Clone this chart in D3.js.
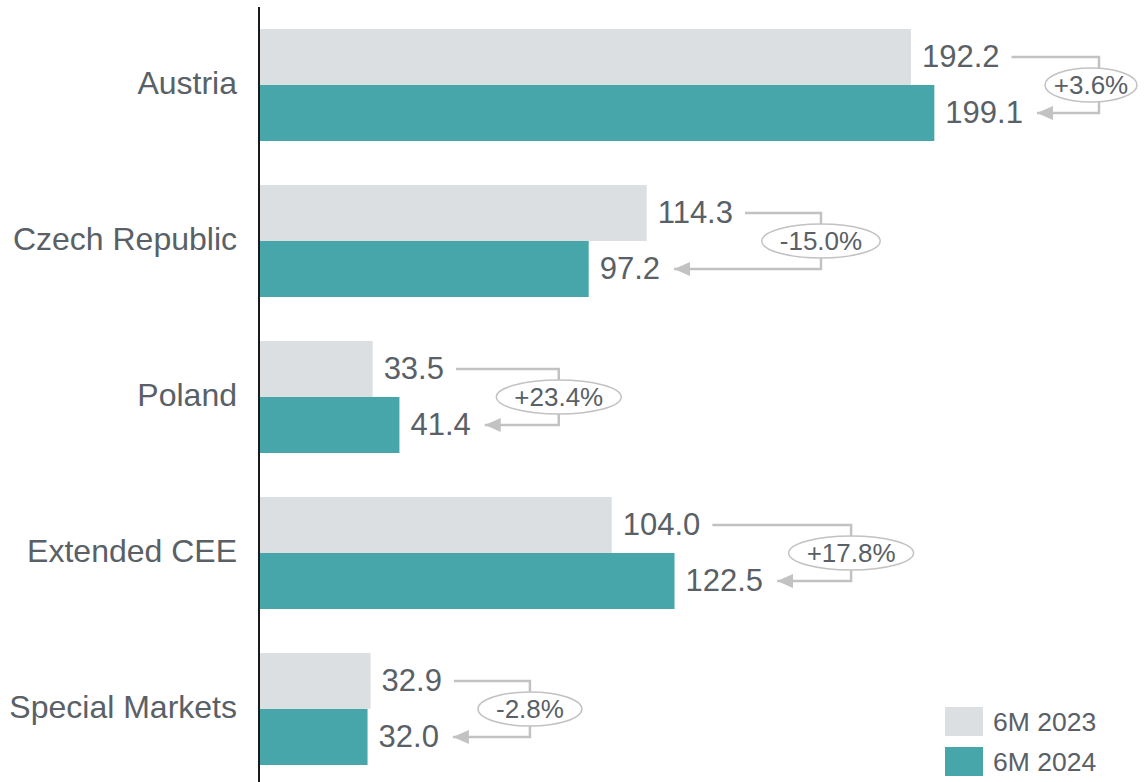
<!DOCTYPE html>
<meta charset="utf-8">
<style>
body { margin: 0; background: #fff; }
text { font-family: "Liberation Sans", Arial, sans-serif; fill: #596066; }
.connector { fill: none; stroke: #c2c2c2; stroke-width: 2.5px; }
</style>
<body>
<script src="https://d3js.org/d3.v7.min.js"></script>
<script>
// data
var regions = ["Austria", "Czech Republic", "Poland", "Extended CEE", "Special Markets"];
var h1 = [192.2, 114.3, 33.5, 104.0, 32.9];   // 6M 2023
var h2 = [199.1, 97.2, 41.4, 122.5, 32.0];    // 6M 2024
var changes = ["+3.6%", "-15.0%", "+23.4%", "+17.8%", "-2.8%"];
var seriesNames = ["6M 2023", "6M 2024"];
var colors = ["#dcdfe2", "#47a6a9"];

var W = 1145, H = 782;

var svg = d3.select("body").append("svg")
    .attr("width", W)
    .attr("height", H);

// scales
var y = d3.scaleBand()
    .domain(regions)
    .range([7, 787])
    .paddingInner(0.282)
    .paddingOuter(0.141);

var x = d3.scaleLinear()
    .domain([0, 200])
    .range([259, 259 + 678.4]);

var bh = y.bandwidth() / 2;

// arrow head marker (tip sits on the path end)
svg.append("defs").append("marker")
    .attr("id", "arrow")
    .attr("viewBox", "0 0 16 14")
    .attr("refX", 16)
    .attr("refY", 7)
    .attr("markerWidth", 16)
    .attr("markerHeight", 14)
    .attr("markerUnits", "userSpaceOnUse")
    .attr("orient", "auto")
  .append("path")
    .attr("d", "M0,0 L16,7 L0,14 Z")
    .attr("fill", "#c2c2c2");

// bars
regions.forEach(function(r, i) {
    svg.append("rect")
        .attr("x", x(0))
        .attr("y", y(r))
        .attr("width", x(h1[i]) - x(0))
        .attr("height", bh)
        .attr("fill", colors[0]);
    svg.append("rect")
        .attr("x", x(0))
        .attr("y", y(r) + bh)
        .attr("width", x(h2[i]) - x(0))
        .attr("height", bh)
        .attr("fill", colors[1]);
});

// category labels
svg.selectAll(".cat")
    .data(regions)
    .enter().append("text")
    .attr("class", "cat")
    .attr("x", 237)
    .attr("y", function(d) { return y(d) + bh - 2; })
    .attr("dy", "0.35em")
    .attr("text-anchor", "end")
    .style("font-size", "32px")
    .text(function(d) { return d; });

// axis line
svg.append("line")
    .attr("x1", x(0)).attr("x2", x(0))
    .attr("y1", 7).attr("y2", H)
    .attr("stroke", "#1a1a1a")
    .attr("stroke-width", 2);

// value labels + change connectors
regions.forEach(function(r, i) {
    var yTop = y(r) + bh / 2,
        yBot = y(r) + bh * 1.5,
        yMid = y(r) + bh;

    var t1 = svg.append("text")
        .attr("x", x(h1[i]) + 11)
        .attr("y", yTop - 1)
        .attr("dy", "0.35em")
        .style("font-size", "31px")
        .text(h1[i].toFixed(1));
    var t2 = svg.append("text")
        .attr("x", x(h2[i]) + 11)
        .attr("y", yBot - 1)
        .attr("dy", "0.35em")
        .style("font-size", "31px")
        .text(h2[i].toFixed(1));

    var end1 = x(h1[i]) + 11 + t1.node().getComputedTextLength(),
        end2 = x(h2[i]) + 11 + t2.node().getComputedTextLength();
    var bx = Math.max(end1, end2) + 88;
    if (bx > W - 46) bx = W - 46;

    svg.append("path")
        .attr("class", "connector")
        .attr("d", "M" + (end1 + 12) + "," + yTop + "H" + bx + "V" + yBot + "H" + (end2 + 14))
        .attr("marker-end", "url(#arrow)");

    var g = svg.append("g");
    var ell = g.append("ellipse");
    var pt = g.append("text")
        .attr("y", yMid)
        .attr("dy", "0.35em")
        .attr("text-anchor", "middle")
        .style("font-size", "26px")
        .text(changes[i]);
    var tw = pt.node().getComputedTextLength();
    var rx = tw / 2 + 18;
    var cx = bx;
    if (bx + rx > W - 3) { rx = Math.min(rx, 46); cx = Math.min(bx, W - rx - 8); }
    pt.attr("x", cx);
    ell.attr("cx", cx)
        .attr("cy", yMid)
        .attr("rx", rx)
        .attr("ry", 17)
        .attr("fill", "#fff")
        .attr("stroke", "#c2c2c2")
        .attr("stroke-width", 1.5);
});

// legend
var legend = svg.selectAll(".legend")
    .data(seriesNames)
    .enter().append("g")
    .attr("class", "legend")
    .attr("transform", function(d, i) { return "translate(945," + (707 + i * 40) + ")"; });

legend.append("rect")
    .attr("width", 38)
    .attr("height", 29)
    .attr("fill", function(d, i) { return colors[i]; });

legend.append("text")
    .attr("x", 48)
    .attr("y", 14.5)
    .attr("dy", "0.35em")
    .style("font-size", "26.5px")
    .text(function(d) { return d; });
</script>
</body>
